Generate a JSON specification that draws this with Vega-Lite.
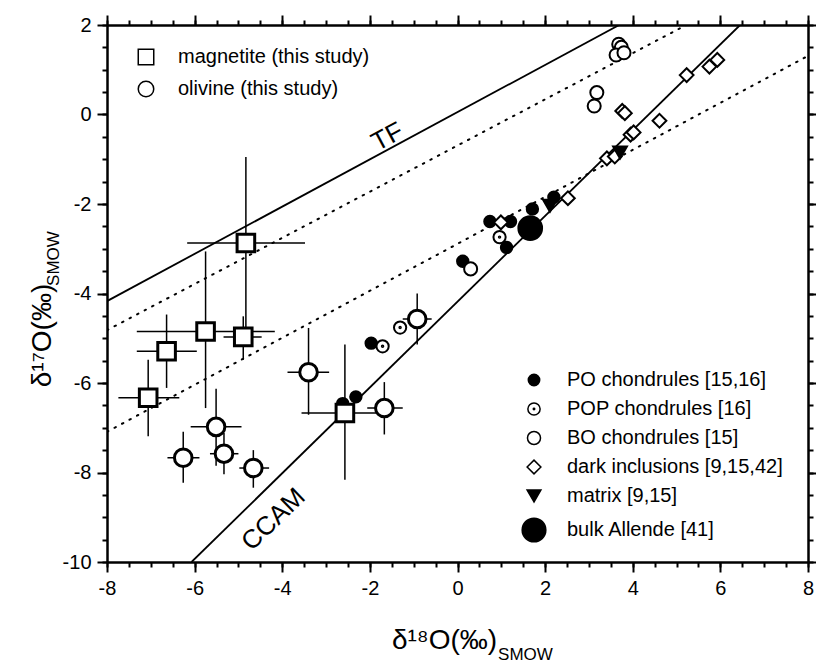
{
  "$schema": "https://vega.github.io/schema/vega-lite/v6.json",
  "width": 701,
  "height": 537,
  "autosize": "none",
  "padding": {"left": 107, "top": 25, "right": 8, "bottom": 101},
  "background": "white",
  "config": {
    "view": {"stroke": null},
    "font": "Liberation Sans",
    "axis": {
      "domainColor": "black", "tickColor": "black", "labelColor": "black", "titleColor": "black",
      "labelFont": "Liberation Sans", "titleFont": "Liberation Sans", "titleFontWeight": "normal",
      "grid": false, "labelFlush": false, "labelOverlap": false, "domainWidth": 2.5, "tickWidth": 2
    },
    "legend": {"labelFont": "Liberation Sans", "labelColor": "black", "labelFontSize": 20, "padding": 0, "labelLimit": 500}
  },
  "datasets": {
    "study": [
      {"mineral": "magnetite (this study)", "x": -4.83, "y": -2.87, "xlo": -6.17, "xhi": -3.48, "ylo": -4.77, "yhi": -0.95},
      {"mineral": "magnetite (this study)", "x": -5.75, "y": -4.85, "xlo": -7.32, "xhi": -4.17, "ylo": -6.56, "yhi": -3.06},
      {"mineral": "magnetite (this study)", "x": -4.89, "y": -4.97, "xlo": -5.34, "xhi": -4.47, "ylo": -5.48, "yhi": -4.51},
      {"mineral": "magnetite (this study)", "x": -6.64, "y": -5.29, "xlo": -7.32, "xhi": -5.95, "ylo": -6.11, "yhi": -4.47},
      {"mineral": "magnetite (this study)", "x": -7.06, "y": -6.33, "xlo": -7.74, "xhi": -6.35, "ylo": -7.19, "yhi": -5.48},
      {"mineral": "magnetite (this study)", "x": -2.57, "y": -6.67, "xlo": -3.56, "xhi": -1.6, "ylo": -8.16, "yhi": -5.14},
      {"mineral": "olivine (this study)", "x": -3.4, "y": -5.76, "xlo": -3.88, "xhi": -2.93, "ylo": -6.71, "yhi": -4.77},
      {"mineral": "olivine (this study)", "x": -1.67, "y": -6.56, "xlo": -2.06, "xhi": -1.25, "ylo": -7.15, "yhi": -5.98},
      {"mineral": "olivine (this study)", "x": -5.51, "y": -6.98, "xlo": -6.09, "xhi": -4.93, "ylo": -7.85, "yhi": -6.13},
      {"mineral": "olivine (this study)", "x": -5.33, "y": -7.58, "xlo": -5.65, "xhi": -5.0, "ylo": -8.04, "yhi": -7.12},
      {"mineral": "olivine (this study)", "x": -6.26, "y": -7.67, "xlo": -6.62, "xhi": -5.89, "ylo": -8.23, "yhi": -7.09},
      {"mineral": "olivine (this study)", "x": -4.66, "y": -7.9, "xlo": -4.98, "xhi": -4.3, "ylo": -8.34, "yhi": -7.5},
      {"mineral": "olivine (this study)", "x": -0.92, "y": -4.57, "xlo": -1.25, "xhi": -0.59, "ylo": -5.14, "yhi": -4.0}
    ],
    "lit": [
      {"group": "PO chondrules [15,16]", "x": -1.97, "y": -5.11},
      {"group": "PO chondrules [15,16]", "x": 0.12, "y": -3.28},
      {"group": "PO chondrules [15,16]", "x": 0.74, "y": -2.39},
      {"group": "PO chondrules [15,16]", "x": 1.21, "y": -2.39},
      {"group": "PO chondrules [15,16]", "x": 1.12, "y": -2.97},
      {"group": "PO chondrules [15,16]", "x": 1.71, "y": -2.11},
      {"group": "PO chondrules [15,16]", "x": 2.2, "y": -1.85},
      {"group": "PO chondrules [15,16]", "x": -2.32, "y": -6.31},
      {"group": "PO chondrules [15,16]", "x": -2.62, "y": -6.46},
      {"group": "POP chondrules [16]", "x": -1.71, "y": -5.18},
      {"group": "POP chondrules [16]", "x": -1.31, "y": -4.76},
      {"group": "POP chondrules [16]", "x": 0.96, "y": -2.74},
      {"group": "BO chondrules [15]", "x": 0.3, "y": -3.45},
      {"group": "BO chondrules [15]", "x": 3.18, "y": 0.49},
      {"group": "BO chondrules [15]", "x": 3.12, "y": 0.19},
      {"group": "BO chondrules [15]", "x": 3.68, "y": 1.57},
      {"group": "BO chondrules [15]", "x": 3.74, "y": 1.5},
      {"group": "BO chondrules [15]", "x": 3.62, "y": 1.33},
      {"group": "BO chondrules [15]", "x": 3.8, "y": 1.38},
      {"group": "dark inclusions [9,15,42]", "x": 3.76, "y": 0.08},
      {"group": "dark inclusions [9,15,42]", "x": 3.82, "y": 0.03},
      {"group": "dark inclusions [9,15,42]", "x": 4.61, "y": -0.14},
      {"group": "dark inclusions [9,15,42]", "x": 5.23, "y": 0.88},
      {"group": "dark inclusions [9,15,42]", "x": 5.75, "y": 1.07},
      {"group": "dark inclusions [9,15,42]", "x": 5.93, "y": 1.22},
      {"group": "dark inclusions [9,15,42]", "x": 3.95, "y": -0.45},
      {"group": "dark inclusions [9,15,42]", "x": 4.02, "y": -0.4},
      {"group": "dark inclusions [9,15,42]", "x": 3.41, "y": -0.98},
      {"group": "dark inclusions [9,15,42]", "x": 3.59, "y": -0.94},
      {"group": "dark inclusions [9,15,42]", "x": 2.52, "y": -1.87},
      {"group": "dark inclusions [9,15,42]", "x": 0.99, "y": -2.41},
      {"group": "matrix [9,15]", "x": 3.71, "y": -0.85},
      {"group": "matrix [9,15]", "x": 2.11, "y": -2.04},
      {"group": "bulk Allende [41]", "x": 1.66, "y": -2.54}
    ],
    "solid": [
      {"line": "TF", "x": -8, "y": -4.17},
      {"line": "TF", "x": 3.69, "y": 2.0},
      {"line": "CCAM", "x": -6.07, "y": -10},
      {"line": "CCAM", "x": 6.45, "y": 2.0}
    ],
    "dotted": [
      {"line": "upper", "x": -8, "y": -4.82},
      {"line": "upper", "x": 5.22, "y": 2.0},
      {"line": "lower", "x": -8, "y": -7.09},
      {"line": "lower", "x": 8, "y": 1.31}
    ]
  },
  "resolve": {
    "axis": {"x": "independent", "y": "independent"},
    "scale": {"shape": "independent", "fill": "independent", "size": "independent"}
  },
  "layer": [
    {
      "data": {"name": "study"},
      "mark": {"type": "rule", "stroke": "black", "strokeWidth": 1.5},
      "encoding": {
        "x": {"field": "xlo", "type": "quantitative", "scale": {"domain": [-8, 8], "nice": false, "zero": false},
          "axis": {"orient": "bottom", "values": [-8,-7.5,-7,-6.5,-6,-5.5,-5,-4.5,-4,-3.5,-3,-2.5,-2,-1.5,-1,-0.5,0,0.5,1,1.5,2,2.5,3,3.5,4,4.5,5,5.5,6,6.5,7,7.5,8],
            "tickSize": 5, "domain": false, "labels": false, "title": "SMOW", "titleFontSize": 17, "titleX": 418, "titleY": 97, "titleAlign": "center", "titleBaseline": "alphabetic"}},
        "x2": {"field": "xhi"},
        "y": {"field": "y", "type": "quantitative", "scale": {"domain": [-10, 2], "nice": false, "zero": false},
          "axis": {"orient": "left", "values": [-10,-9.5,-9,-8.5,-8,-7.5,-7,-6.5,-6,-5.5,-5,-4.5,-4,-3.5,-3,-2.5,-2,-1.5,-1,-0.5,0,0.5,1,1.5,2],
            "tickSize": 5, "domain": false, "labels": false, "title": "SMOW", "titleFontSize": 17, "titleX": -49, "titleY": 233, "titleAngle": 270, "titleAlign": "center", "titleBaseline": "alphabetic"}}
      }
    },
    {
      "data": {"name": "study"},
      "mark": {"type": "rule", "stroke": "black", "strokeWidth": 1.5},
      "encoding": {
        "x": {"field": "x", "type": "quantitative", "scale": {"domain": [-8, 8], "nice": false, "zero": false},
          "axis": {"orient": "top", "values": [-8,-6,-4,-2,0,2,4,6,8], "tickSize": 10, "domain": true, "labels": false, "title": null}},
        "y": {"field": "ylo", "type": "quantitative", "scale": {"domain": [-10, 2], "nice": false, "zero": false},
          "axis": {"orient": "right", "values": [-10,-8,-6,-4,-2,0,2], "tickSize": 10, "domain": true, "labels": false, "title": null}},
        "y2": {"field": "yhi"}
      }
    },
    {
      "data": {"name": "solid"},
      "mark": {"type": "line", "stroke": "black", "strokeWidth": 1.8, "clip": true},
      "encoding": {
        "x": {"field": "x", "type": "quantitative", "scale": {"domain": [-8, 8], "nice": false, "zero": false},
          "axis": {"orient": "top", "values": [-8,-7.5,-7,-6.5,-6,-5.5,-5,-4.5,-4,-3.5,-3,-2.5,-2,-1.5,-1,-0.5,0,0.5,1,1.5,2,2.5,3,3.5,4,4.5,5,5.5,6,6.5,7,7.5,8],
            "tickSize": 5, "domain": false, "labels": false, "title": null}},
        "y": {"field": "y", "type": "quantitative", "scale": {"domain": [-10, 2], "nice": false, "zero": false},
          "axis": {"orient": "right", "values": [-10,-9.5,-9,-8.5,-8,-7.5,-7,-6.5,-6,-5.5,-5,-4.5,-4,-3.5,-3,-2.5,-2,-1.5,-1,-0.5,0,0.5,1,1.5,2],
            "tickSize": 5, "domain": false, "labels": false, "title": null}},
        "detail": {"field": "line", "type": "nominal"}
      }
    },
    {
      "data": {"name": "dotted"},
      "mark": {"type": "line", "stroke": "black", "strokeWidth": 2, "strokeDash": [1.5, 7], "strokeCap": "round", "clip": true},
      "encoding": {
        "x": {"field": "x", "type": "quantitative", "scale": {"domain": [-8, 8], "nice": false, "zero": false}, "axis": null},
        "y": {"field": "y", "type": "quantitative", "scale": {"domain": [-10, 2], "nice": false, "zero": false}, "axis": null},
        "detail": {"field": "line", "type": "nominal"}
      }
    },
    {
      "data": {"values": [{"label": "TF", "x": -1.6, "y": -0.5}]},
      "mark": {"type": "text", "font": "Liberation Sans", "fontSize": 26, "angle": -28, "color": "black"},
      "encoding": {
        "x": {"field": "x", "type": "quantitative", "scale": {"domain": [-8, 8], "nice": false, "zero": false}, "axis": null},
        "y": {"field": "y", "type": "quantitative", "scale": {"domain": [-10, 2], "nice": false, "zero": false}, "axis": null},
        "text": {"field": "label"}
      }
    },
    {
      "data": {"values": [{"label": "CCAM", "x": -4.2, "y": -9.05}]},
      "mark": {"type": "text", "font": "Liberation Sans", "fontSize": 26, "angle": -44, "color": "black"},
      "encoding": {
        "x": {"field": "x", "type": "quantitative", "scale": {"domain": [-8, 8], "nice": false, "zero": false}, "axis": null},
        "y": {"field": "y", "type": "quantitative", "scale": {"domain": [-10, 2], "nice": false, "zero": false}, "axis": null},
        "text": {"field": "label"}
      }
    },
    {
      "data": {"name": "lit"},
      "mark": {"type": "point", "filled": true, "stroke": "black", "strokeWidth": 2, "opacity": 1},
      "encoding": {
        "x": {"field": "x", "type": "quantitative", "scale": {"domain": [-8, 8], "nice": false, "zero": false}, "axis": null},
        "y": {"field": "y", "type": "quantitative", "scale": {"domain": [-10, 2], "nice": false, "zero": false}, "axis": null},
        "shape": {"field": "group", "type": "nominal",
          "scale": {"domain": ["PO chondrules [15,16]", "POP chondrules [16]", "BO chondrules [15]", "dark inclusions [9,15,42]", "matrix [9,15]", "bulk Allende [41]"],
            "range": ["circle", "M-1,0A1,1,0,1,1,1,0A1,1,0,1,1,-1,0Z M-0.12,0A0.12,0.12,0,1,1,0.12,0A0.12,0.12,0,1,1,-0.12,0Z", "circle", "diamond", "triangle-down", "circle"]},
          "legend": {"orient": "none", "legendX": 414, "legendY": 345, "title": null, "labelFontSize": 20, "rowPadding": 9, "labelOffset": 20,
            "encode": {"symbols": {"update": {"stroke": {"value": "black"}, "strokeWidth": {"value": 2}, "opacity": {"value": 1}}}}}},
        "fill": {"field": "group", "type": "nominal",
          "scale": {"domain": ["PO chondrules [15,16]", "POP chondrules [16]", "BO chondrules [15]", "dark inclusions [9,15,42]", "matrix [9,15]", "bulk Allende [41]"],
            "range": ["black", "white", "white", "white", "black", "black"]},
          "legend": {"orient": "none", "legendX": 414, "legendY": 345, "title": null, "labelFontSize": 20, "rowPadding": 9, "labelOffset": 20,
            "encode": {"symbols": {"update": {"stroke": {"value": "black"}, "strokeWidth": {"value": 2}, "opacity": {"value": 1}}}}}},
        "size": {"field": "group", "type": "nominal",
          "scale": {"type": "ordinal", "domain": ["PO chondrules [15,16]", "POP chondrules [16]", "BO chondrules [15]", "dark inclusions [9,15,42]", "matrix [9,15]", "bulk Allende [41]"],
            "range": [130, 150, 170, 190, 190, 560]},
          "legend": {"orient": "none", "legendX": 414, "legendY": 345, "title": null, "labelFontSize": 20, "rowPadding": 9, "labelOffset": 20,
            "encode": {"symbols": {"update": {"stroke": {"value": "black"}, "strokeWidth": {"value": 2}, "opacity": {"value": 1}}}}}}
      }
    },
    {
      "data": {"name": "study"},
      "mark": {"type": "point", "filled": true, "fill": "white", "stroke": "black", "strokeWidth": 3, "size": 310, "opacity": 1},
      "encoding": {
        "x": {"field": "x", "type": "quantitative", "scale": {"domain": [-8, 8], "nice": false, "zero": false},
          "axis": {"orient": "bottom", "values": [-8,-6,-4,-2,0,2,4,6,8], "tickSize": 10, "domain": true, "labelFontSize": 20, "labelPadding": 6,
            "labelExpr": "datum.value + ''", "title": "δ¹⁸O(‰)", "titleFontSize": 28, "titleX": 337, "titleY": 86, "titleAlign": "center", "titleBaseline": "alphabetic"}},
        "y": {"field": "y", "type": "quantitative", "scale": {"domain": [-10, 2], "nice": false, "zero": false},
          "axis": {"orient": "left", "values": [-10,-8,-6,-4,-2,0,2], "tickSize": 10, "domain": true, "labelFontSize": 20, "labelPadding": 6,
            "labelExpr": "datum.value + ''", "title": "δ¹⁷O(‰)", "titleFontSize": 28, "titleX": -57, "titleY": 310, "titleAngle": 270, "titleAlign": "center", "titleBaseline": "alphabetic"}},
        "shape": {"field": "mineral", "type": "nominal",
          "scale": {"domain": ["magnetite (this study)", "olivine (this study)"], "range": ["square", "circle"]},
          "legend": {"orient": "none", "legendX": 29, "legendY": 22, "title": null, "labelFontSize": 20, "symbolSize": 240, "rowPadding": 10, "labelOffset": 22,
            "encode": {"symbols": {"update": {"stroke": {"value": "black"}, "strokeWidth": {"value": 2.5}, "fill": {"value": "white"}, "opacity": {"value": 1}}}}}}
      }
    }
  ]
}
